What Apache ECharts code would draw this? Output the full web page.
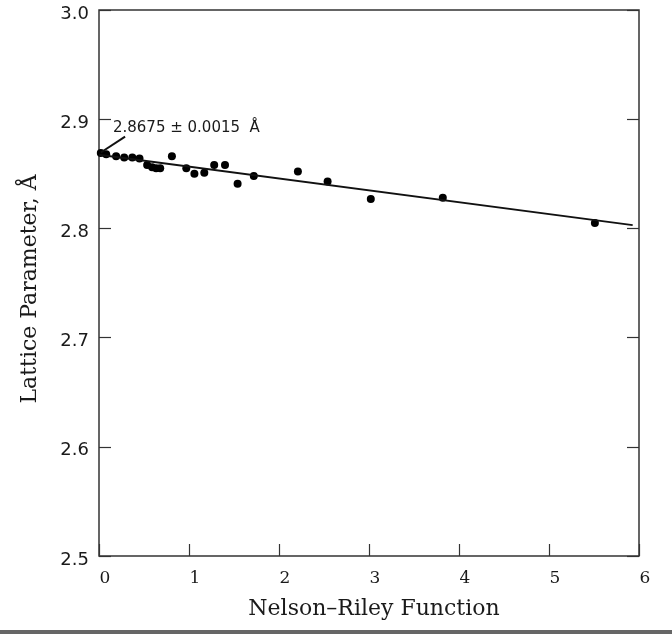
<!DOCTYPE html>
<html>
<head>
<meta charset="utf-8">
<script src="https://cdn.jsdelivr.net/npm/echarts@6/dist/echarts.min.js"></script>
<style>html,body{margin:0;padding:0;background:#fff;}#chart{width:672px;height:634px;}</style>
</head>
<body>
<div id="chart"></div>
<script>
// Data
const nelsonRiley = [0.02, 0.08, 0.19, 0.28, 0.37, 0.45, 0.535, 0.59, 0.635, 0.68, 0.81, 0.97, 1.06, 1.17, 1.28, 1.40, 1.54, 1.72, 2.21, 2.54, 3.02, 3.82, 5.51];
const latticeParam = [2.869, 2.868, 2.866, 2.865, 2.865, 2.864, 2.858, 2.856, 2.855, 2.855, 2.866, 2.855, 2.850, 2.851, 2.858, 2.858, 2.841, 2.848, 2.852, 2.843, 2.827, 2.828, 2.805];
const fitX = [0, 5.93];
const fitY = [2.8675, 2.803];
const arrowFrom = [0.29, 2.884];
const arrowTo = [0.02, 2.8695];
const annotAt = [0.155, 2.892];
const annotText = '2.8675 \u00B1 0.0015  \u00C5';
const xTitle = 'Nelson\u2013Riley Function';
const yTitle = 'Lattice Parameter, \u00C5';

const chart = echarts.init(document.getElementById('chart'), null, {renderer: 'canvas'});
const ink = '#1a1a1a';
const axisInk = '#333';

const option = {
  animation: false,
  backgroundColor: '#fff',
  grid: {left: 99, right: 33, top: 10, bottom: 78, show: true, borderColor: axisInk, borderWidth: 1.5, backgroundColor: 'transparent'},
  xAxis: {
    type: 'value', min: 0, max: 6, interval: 1,
    axisLine: {show: false},
    axisTick: {show: true, inside: true, length: 12, lineStyle: {color: axisInk, width: 1.2}},
    splitLine: {show: false},
    axisLabel: {margin: 14, color: ink, fontFamily: 'DejaVu Serif', fontSize: 17, padding: [0, 0, 0, 12]},
    name: xTitle, nameLocation: 'middle', nameGap: 42,
    nameTextStyle: {color: ink, fontFamily: 'DejaVu Serif', fontSize: 22, padding: [0, 0, 0, 10]}
  },
  yAxis: [{
    type: 'value', min: 2.5, max: 3.0, interval: 0.1,
    axisLine: {show: false},
    axisTick: {show: true, inside: true, length: 12, lineStyle: {color: axisInk, width: 1.2}},
    splitLine: {show: false},
    axisLabel: {margin: 10, color: ink, fontFamily: 'DejaVu Sans', fontSize: 18, verticalAlign: 'top', lineHeight: 8,
      formatter: v => v.toFixed(1)},
    name: yTitle, nameLocation: 'middle', nameGap: 58, nameRotate: 90,
    nameTextStyle: {color: ink, fontFamily: 'DejaVu Serif', fontSize: 22, padding: [0, 12, 0, 0]}
  }, {
    type: 'value', min: 2.5, max: 3.0, interval: 0.1, position: 'right',
    axisLine: {show: false},
    axisTick: {show: true, inside: true, length: 12, lineStyle: {color: axisInk, width: 1.2}},
    splitLine: {show: false},
    axisLabel: {show: false}
  }],
  series: [{
    type: 'scatter',
    data: nelsonRiley.map((x, i) => [x, latticeParam[i]]),
    symbolSize: 8,
    itemStyle: {color: '#000', opacity: 1},
    emphasis: {disabled: true},
    silent: true
  }, {
    type: 'line',
    data: fitX.map((x, i) => [x, fitY[i]]),
    showSymbol: false,
    lineStyle: {color: '#111', width: 2},
    emphasis: {disabled: true},
    silent: true,
    markLine: {
      silent: true,
      symbol: ['none', 'arrow'],
      symbolSize: [0, 12],
      label: {show: false},
      lineStyle: {color: '#111', width: 2, type: 'solid'},
      emphasis: {disabled: true},
      data: [[{coord: arrowFrom}, {coord: arrowTo}]]
    }
  }]
};
chart.setOption(option);

const p = chart.convertToPixel({gridIndex: 0}, annotAt);
chart.setOption({
  graphic: [{
    type: 'text', x: p[0], y: p[1], silent: true,
    style: {text: annotText, fill: ink, font: '15px "DejaVu Sans"', textAlign: 'left', textVerticalAlign: 'middle'}
  }, {
    type: 'rect', silent: true,
    shape: {x: 0, y: 630, width: 672, height: 4},
    style: {fill: '#666'}
  }]
});
</script>
</body>
</html>
